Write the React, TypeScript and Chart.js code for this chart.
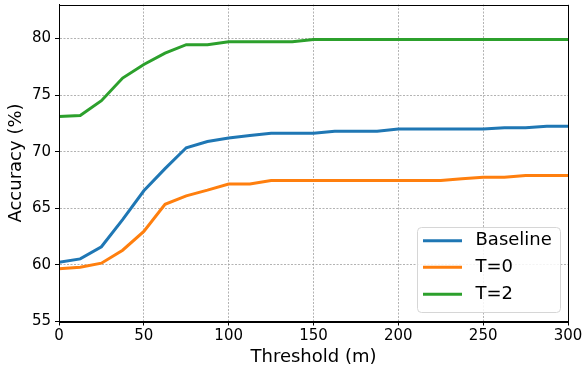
import React, { useEffect, useRef } from "react";
import { Chart, registerables } from "chart.js";

Chart.register(...registerables);

const thresholds = [0, 12.5, 25, 37.5, 50, 62.5, 75, 87.5, 100, 112.5, 125, 137.5, 150, 162.5, 175, 187.5, 200, 212.5, 225, 237.5, 250, 262.5, 275, 287.5, 300];
const baseline = [60.24, 60.53, 61.6, 64.0, 66.55, 68.5, 70.35, 70.9, 71.2, 71.42, 71.62, 71.62, 71.62, 71.8, 71.8, 71.8, 72.0, 72.0, 72.0, 72.0, 72.0, 72.12, 72.12, 72.25, 72.25];
const tZero = [59.65, 59.8, 60.15, 61.3, 62.95, 65.35, 66.1, 66.6, 67.15, 67.15, 67.45, 67.45, 67.45, 67.45, 67.45, 67.45, 67.45, 67.45, 67.45, 67.6, 67.75, 67.75, 67.9, 67.9, 67.9];
const tTwo = [73.1, 73.2, 74.5, 76.5, 77.7, 78.7, 79.45, 79.45, 79.7, 79.7, 79.7, 79.7, 79.9, 79.9, 79.9, 79.9, 79.9, 79.9, 79.9, 79.9, 79.9, 79.9, 79.9, 79.9, 79.9];
const seriesLabels = ["Baseline", "T=0", "T=2"];
const seriesColors = ["#1f77b4", "#ff7f0e", "#2ca02c"];
const xLabel = "Threshold (m)";
const yLabel = "Accuracy (%)";

const FONT = "'DejaVu Sans', sans-serif";

const framePlugin = {
  id: "frameAndLegend",
  afterDraw(chart: any) {
    const { ctx, chartArea } = chart;
    const { left, top, right, bottom } = chartArea;
    ctx.save();
    ctx.strokeStyle = "#000";
    ctx.lineWidth = 1;
    ctx.setLineDash([]);
    ctx.strokeRect(Math.round(left) + 0.5, Math.round(top) + 0.5, Math.round(right) - Math.round(left), Math.round(bottom) - Math.round(top));

    const bx = 417.5, by = 227.5, bw = 143, bh = 85, r = 4;
    ctx.beginPath();
    ctx.moveTo(bx + r, by);
    ctx.lineTo(bx + bw - r, by);
    ctx.quadraticCurveTo(bx + bw, by, bx + bw, by + r);
    ctx.lineTo(bx + bw, by + bh - r);
    ctx.quadraticCurveTo(bx + bw, by + bh, bx + bw - r, by + bh);
    ctx.lineTo(bx + r, by + bh);
    ctx.quadraticCurveTo(bx, by + bh, bx, by + bh - r);
    ctx.lineTo(bx, by + r);
    ctx.quadraticCurveTo(bx, by, bx + r, by);
    ctx.closePath();
    ctx.fillStyle = "rgba(255,255,255,0.85)";
    ctx.fill();
    ctx.strokeStyle = "#d6d6d6";
    ctx.lineWidth = 1;
    ctx.stroke();

    const rowY = [240.7, 267.3, 294.3];
    chart.data.datasets.forEach((ds: any, i: number) => {
      const y = rowY[i];
      ctx.strokeStyle = ds.borderColor;
      ctx.lineWidth = 3;
      ctx.beginPath();
      ctx.moveTo(423, y);
      ctx.lineTo(462, y);
      ctx.stroke();
      ctx.fillStyle = "#000";
      ctx.font = `18px ${FONT}`;
      ctx.textBaseline = "middle";
      ctx.textAlign = "left";
      ctx.fillText(ds.label, 475.5, y);
    });
    ctx.restore();
  },
};

export default function App() {
  const ref = useRef<HTMLCanvasElement | null>(null);
  useEffect(() => {
    if (!ref.current) return;
    const seriesValues = [baseline, tZero, tTwo];
    const chart = new Chart(ref.current, {
      type: "line",
      data: {
        datasets: seriesValues.map((vals, i) => ({
          label: seriesLabels[i],
          data: thresholds.map((x, j) => ({ x, y: vals[j] })),
          borderColor: seriesColors[i],
          backgroundColor: seriesColors[i],
          borderWidth: 3,
          pointRadius: 0,
          tension: 0,
          fill: false,
        })),
      },
      options: {
        responsive: false,
        animation: false,
        layout: { padding: { left: 0, top: 4.5, right: 19, bottom: 0 } },
        plugins: {
          legend: { display: false },
          tooltip: { enabled: false },
        },
        scales: {
          x: {
            type: "linear",
            min: 0,
            max: 300,
            afterFit: (s: any) => { s.height = 46.5; s.paddingLeft = 0; s.paddingRight = 0; },
            ticks: { stepSize: 50, color: "#000", font: { family: FONT, size: 15 }, padding: 2, maxRotation: 0 },
            grid: { color: "#a0a0a0", lineWidth: 0.8, tickLength: 4, tickColor: "#000", tickWidth: 1, tickBorderDash: [] },
            border: { display: true, color: "#000", width: 1, dash: [2, 1.5] },
            title: { display: true, text: xLabel, color: "#000", font: { family: FONT, size: 18 }, padding: { top: 0, bottom: 0 } },
          },
          y: {
            type: "linear",
            min: 55,
            max: 83,
            afterFit: (s: any) => { s.width = 59; s.paddingTop = 0; s.paddingBottom = 0; },
            ticks: { stepSize: 5, includeBounds: false, color: "#000", font: { family: FONT, size: 15 }, padding: 4 },
            grid: { color: "#a0a0a0", lineWidth: 0.8, tickLength: 4, tickColor: "#000", tickWidth: 1, tickBorderDash: [] },
            border: { display: true, color: "#000", width: 1, dash: [2, 1.5] },
            title: { display: true, text: yLabel, color: "#000", font: { family: FONT, size: 18 }, padding: { top: 6, bottom: 0 } },
          },
        },
      },
      plugins: [framePlugin],
    } as any);
    return () => chart.destroy();
  }, []);
  return (
    <div style={{ position: "absolute", left: 0, top: 0, width: 587, height: 368, background: "#fff" }}>
      <canvas ref={ref} width={587} height={368} style={{ display: "block" }} />
    </div>
  );
}
